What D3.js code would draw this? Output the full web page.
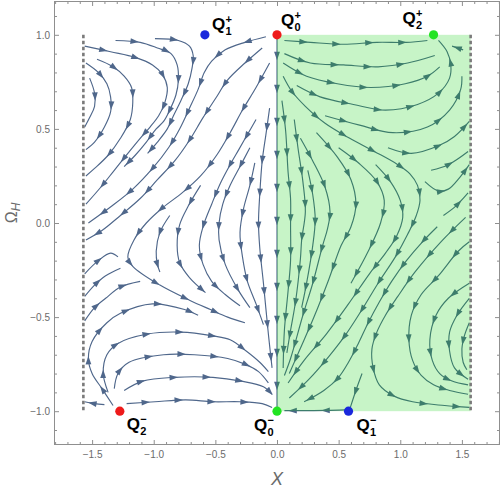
<!DOCTYPE html>
<html>
<head>
<meta charset="utf-8">
<title>Stream plot X - Omega_H</title>
<style>
  body { margin: 0; background: #ffffff; }
  svg text { font-family: "Liberation Sans", Arial, sans-serif; }
</style>
</head>
<body>
<div id="vis"></div>
<script src="https://d3js.org/d3.v7.min.js"></script>
<script>
// tick labels
const xTicks = [-1.5, -1.0, -0.5, 0.0, 0.5, 1.0, 1.5]
const yTicks = [-1.0, -0.5, 0.0, 0.5, 1.0]

// critical points
const pointNames = ['Q0+', 'Q1+', 'Q2+', 'Q0-', 'Q1-', 'Q2-']
const pointSub   = ['0', '1', '2', '0', '1', '2']
const pointSup   = ['+', '+', '+', '\u2212', '\u2212', '\u2212']
const pointX     = [0, -0.585, 1.27, 0, 0.58, -1.275]
const pointY     = [1, 1, 1, -1, -1, -1]
const pointKind  = ['source', 'saddle', 'sink', 'sink', 'saddle', 'source']

// shaded region and the walls X = ±π/2
const regionX = [0, Math.PI / 2]
const regionY = [-1, 1]
const wallX = [-Math.PI / 2, Math.PI / 2]
const wallY = [-1, 1]

// streamlines as [X, Ω_H] pairs, in flow order
const axisLine = [[0, 0.99], [0, -0.99]]

const leftTop = [
  [[-1.52,0.77],[-1.48,0.69],[-1.48,0.62],[-1.52,0.56],[-1.56,0.51]],
  [[-1.55,0.85],[-1.45,0.80],[-1.38,0.74],[-1.35,0.67],[-1.35,0.59],[-1.40,0.51],[-1.48,0.43],[-1.55,0.39]],
  [[-1.46,0.87],[-1.33,0.83],[-1.24,0.78],[-1.18,0.72],[-1.17,0.64],[-1.19,0.55],[-1.27,0.45],[-1.37,0.36],[-1.48,0.29],[-1.55,0.25]],
  [[-1.56,0.94],[-1.35,0.91],[-1.15,0.88],[-1.01,0.84],[-0.93,0.79],[-0.89,0.72],[-0.91,0.64],[-0.96,0.57],[-1.03,0.51],[-1.11,0.45],[-1.21,0.37],[-1.32,0.28],[-1.43,0.19],[-1.55,0.10]],
  [[-1.31,0.97],[-1.11,0.96],[-0.97,0.93],[-0.86,0.90],[-0.81,0.84],[-0.80,0.76],[-0.82,0.68],[-0.87,0.60],[-0.92,0.54],[-0.98,0.50],[-1.06,0.43],[-1.15,0.36],[-1.24,0.30]],
  [[-0.99,0.98],[-0.80,0.97],[-0.71,0.94],[-0.68,0.89],[-0.69,0.82],[-0.72,0.74],[-0.78,0.65],[-0.84,0.57],[-0.89,0.50],[-0.97,0.43],[-1.05,0.37]],
  [[-0.09,0.99],[-0.26,0.96],[-0.42,0.92],[-0.53,0.86],[-0.59,0.80],[-0.64,0.71],[-0.71,0.61],[-0.79,0.50],[-0.88,0.40],[-1.01,0.29],[-1.17,0.18],[-1.34,0.09],[-1.53,0.00]],
  [[-0.12,0.93],[-0.26,0.85],[-0.40,0.76],[-0.50,0.66],[-0.60,0.56],[-0.71,0.44],[-0.83,0.33],[-0.97,0.23],[-1.11,0.13],[-1.27,0.04],[-1.42,-0.04],[-1.55,-0.09]]
]

const leftMid = [
  [[-0.06,0.85],[-0.17,0.72],[-0.28,0.60],[-0.38,0.48],[-0.49,0.36],[-0.62,0.25],[-0.77,0.16],[-0.93,0.08],[-1.06,0.00],[-1.16,-0.09],[-1.21,-0.18],[-1.17,-0.23],[-0.95,-0.33],[-0.71,-0.41],[-0.54,-0.46],[-0.40,-0.50],[-0.26,-0.53]],
  [[-0.17,0.55],[-0.24,0.47],[-0.31,0.39],[-0.38,0.31],[-0.46,0.21],[-0.53,0.10],[-0.60,-0.02],[-0.63,-0.12],[-0.60,-0.22],[-0.53,-0.31],[-0.42,-0.38],[-0.30,-0.44]],
  [[-0.06,0.61],[-0.09,0.47],[-0.12,0.33],[-0.14,0.15],[-0.15,0.00],[-0.14,-0.13],[-0.11,-0.32],[-0.07,-0.59],[-0.04,-0.77]],
  [[-0.22,0.40],[-0.30,0.30],[-0.38,0.20],[-0.44,0.10],[-0.47,0.00],[-0.47,-0.09],[-0.42,-0.22],[-0.32,-0.35],[-0.22,-0.45]],
  [[-0.18,0.32],[-0.22,0.20],[-0.27,0.08],[-0.30,-0.05],[-0.28,-0.18],[-0.24,-0.31],[-0.17,-0.43],[-0.11,-0.54]],
  [[-0.62,0.20],[-0.72,0.09],[-0.79,-0.01],[-0.81,-0.12],[-0.79,-0.21],[-0.71,-0.29],[-0.58,-0.37]],
  [[-0.87,0.04],[-0.95,-0.05],[-0.98,-0.15],[-0.97,-0.22],[-0.95,-0.26]]
]

const leftBottom = [
  [[-1.22,-0.96],[-0.99,-0.95],[-0.74,-0.94],[-0.52,-0.95],[-0.30,-0.95],[-0.12,-0.96],[-0.04,-0.98]],
  [[-1.24,-0.89],[-1.09,-0.84],[-0.83,-0.82],[-0.52,-0.82],[-0.29,-0.84],[-0.11,-0.87],[-0.04,-0.91]],
  [[-1.32,-0.88],[-1.29,-0.80],[-1.20,-0.74],[-0.92,-0.70],[-0.67,-0.70],[-0.40,-0.72],[-0.26,-0.75],[-0.15,-0.79],[-0.07,-0.85]],
  [[-1.37,-0.90],[-1.41,-0.80],[-1.38,-0.70],[-1.29,-0.64],[-1.05,-0.59],[-0.78,-0.58],[-0.52,-0.60],[-0.38,-0.62],[-0.25,-0.68],[-0.14,-0.74],[-0.07,-0.79]],
  [[-1.33,-0.97],[-1.42,-0.88],[-1.50,-0.80],[-1.53,-0.72],[-1.50,-0.63],[-1.38,-0.53],[-1.27,-0.48],[-1.01,-0.43],[-0.75,-0.46],[-0.64,-0.49]],
  [[-1.40,-0.965],[-1.48,-0.96],[-1.56,-0.95]],
  [[-1.56,-0.52],[-1.48,-0.45],[-1.39,-0.40],[-1.27,-0.34],[-1.11,-0.31]],
  [[-1.56,-0.39],[-1.48,-0.33],[-1.39,-0.28],[-1.27,-0.24]],
  [[-1.56,-0.27],[-1.45,-0.20],[-1.35,-0.16],[-1.29,-0.18]]
]

const rightTop = [
  [[0.06,0.97],[0.27,0.96],[0.54,0.95],[0.81,0.96],[1.05,0.96],[1.22,0.97]],
  [[0.06,0.90],[0.27,0.85],[0.54,0.84],[0.82,0.83],[1.06,0.85],[1.28,0.89]],
  [[0.05,0.85],[0.24,0.78],[0.49,0.74],[0.76,0.72],[1.04,0.74],[1.22,0.78],[1.32,0.83]],
  [[0.16,0.73],[0.35,0.67],[0.62,0.63],[0.88,0.60],[1.14,0.63],[1.31,0.69],[1.40,0.77],[1.41,0.84],[1.38,0.91],[1.31,0.97]],
  [[0.39,0.57],[0.67,0.52],[0.94,0.48],[1.22,0.51],[1.40,0.60],[1.49,0.71],[1.50,0.78]],
  [[0.90,0.40],[1.09,0.37],[1.31,0.41],[1.44,0.46],[1.56,0.54]],
  [[1.25,0.28],[1.39,0.31],[1.55,0.38]],
  [[1.20,0.22],[1.31,0.17],[1.39,0.18],[1.48,0.24],[1.56,0.31]],
  [[1.35,0.04],[1.45,0.09],[1.55,0.16]],
  [[1.51,0.92],[1.42,0.94]]
]

const rightMid = [
  [[0.05,0.78],[0.12,0.70],[0.23,0.62],[0.39,0.53],[0.59,0.45],[0.79,0.38],[0.98,0.31],[1.08,0.26],[1.14,0.20],[1.16,0.12],[1.13,0.04],[1.06,-0.06],[0.96,-0.18],[0.82,-0.32],[0.68,-0.47],[0.55,-0.60],[0.42,-0.71],[0.26,-0.83],[0.10,-0.93]],
  [[0.04,0.65],[0.07,0.49],[0.09,0.27],[0.11,0.13],[0.11,-0.01],[0.11,-0.20],[0.09,-0.36],[0.06,-0.57],[0.05,-0.77]],
  [[0.14,0.55],[0.17,0.40],[0.21,0.22],[0.23,0.06],[0.20,-0.09],[0.19,-0.19],[0.15,-0.42],[0.11,-0.57],[0.08,-0.69]],
  [[0.25,0.28],[0.29,0.15],[0.31,0.02],[0.29,-0.12],[0.24,-0.32],[0.20,-0.45]],
  [[0.19,0.45],[0.29,0.33],[0.39,0.19],[0.43,0.06],[0.41,-0.03],[0.37,-0.12],[0.29,-0.32],[0.21,-0.49],[0.11,-0.72],[0.06,-0.81]],
  [[0.32,0.48],[0.49,0.35],[0.60,0.23],[0.64,0.10],[0.60,-0.02],[0.52,-0.12],[0.42,-0.30],[0.30,-0.50],[0.18,-0.68],[0.10,-0.80]],
  [[0.50,0.40],[0.66,0.32],[0.81,0.22],[0.87,0.12],[0.84,0.00],[0.74,-0.15],[0.60,-0.32]],
  [[0.80,0.31],[0.92,0.22],[1.00,0.12],[1.02,0.03],[0.97,-0.07],[0.88,-0.16],[0.75,-0.27],[0.58,-0.43],[0.40,-0.59],[0.22,-0.73],[0.09,-0.85]]
]

const rightBottom = [
  [[1.30,-0.02],[1.18,-0.10],[1.05,-0.20],[0.93,-0.31],[0.83,-0.42],[0.74,-0.53],[0.66,-0.64],[0.58,-0.74],[0.50,-0.82],[0.38,-0.89],[0.22,-0.95]],
  [[1.53,0.03],[1.33,-0.10],[1.12,-0.26],[0.98,-0.39],[0.88,-0.49],[0.81,-0.58],[0.77,-0.67],[0.78,-0.77],[0.83,-0.86],[0.95,-0.92],[1.10,-0.95],[1.36,-0.97],[1.56,-0.98]],
  [[1.56,-0.10],[1.47,-0.15],[1.31,-0.28],[1.17,-0.38],[1.09,-0.49],[1.07,-0.62],[1.10,-0.73],[1.17,-0.81],[1.27,-0.86],[1.40,-0.89],[1.55,-0.91]],
  [[1.56,-0.32],[1.39,-0.40],[1.29,-0.49],[1.24,-0.62],[1.26,-0.73],[1.32,-0.80],[1.42,-0.84],[1.55,-0.86]],
  [[1.56,-0.40],[1.46,-0.49],[1.40,-0.58],[1.40,-0.68],[1.44,-0.77],[1.55,-0.83]],
  [[1.56,-0.53],[1.52,-0.60],[1.50,-0.67],[1.51,-0.74],[1.54,-0.78]],
  [[0.69,-0.80],[0.64,-0.89],[0.595,-0.98]],
  [[0.55,-0.993],[0.40,-0.996],[0.24,-0.997],[0.06,-0.997]]
]

const allLines = [axisLine].concat(leftTop, leftMid, leftBottom, rightTop, rightMid, rightBottom)

// ---- drawing ----
const W = 500, H = 490
const lineColor = '#4f678b'
const kindColor = { source: '#ee1a1a', saddle: '#1a28dc', sink: '#22e422' }
const labelPos = {           // pixel offset of the "Q" from its point
  'Q0+': [4, -9], 'Q1+': [7, -5], 'Q2+': [-31, -11],
  'Q0-': [-23, 20], 'Q1-': [8, 20], 'Q2-': [7, 19]
}

const svg = d3.select('#vis').append('svg')
  .attr('width', W).attr('height', H)

const x = d3.scaleLinear().domain([-1.805, 1.805]).range([54.5, 499.5])
const y = d3.scaleLinear().domain([-1.177, 1.177]).range([444.5, 1.5])

svg.append('clipPath').attr('id', 'plot-clip')
  .append('rect').attr('x', 54.5).attr('y', 1.5).attr('width', 445).attr('height', 443)

// streamlines with arrowheads
const lineGen = d3.line()
  .x(d => x(d[0])).y(d => y(d[1]))
  .curve(d3.curveCatmullRom.alpha(0.5))

const gLines = svg.append('g').attr('clip-path', 'url(#plot-clip)')
allLines.forEach(pts => {
  const path = gLines.append('path').datum(pts)
    .attr('d', lineGen)
    .attr('fill', 'none')
    .attr('stroke', lineColor)
    .attr('stroke-width', 1.15)
  const node = path.node()
  const len = node.getTotalLength()
  for (let s = Math.min(22, len * 0.75); s <= len; s += 33) {
    const p = node.getPointAtLength(s)
    const q = node.getPointAtLength(Math.max(0, s - 1.5))
    const a = Math.atan2(p.y - q.y, p.x - q.x) * 180 / Math.PI
    gLines.append('path')
      .attr('d', 'M1.5,0L-7,-2.9L-7,2.9Z')
      .attr('transform', `translate(${p.x},${p.y}) rotate(${a})`)
      .attr('fill', lineColor)
  }
})

// green region laid over the lines
svg.append('rect')
  .attr('x', x(regionX[0])).attr('y', y(regionY[1]))
  .attr('width', x(regionX[1]) - x(regionX[0]))
  .attr('height', y(regionY[0]) - y(regionY[1]))
  .attr('fill', 'rgb(0,205,0)').attr('fill-opacity', 0.22)

// dashed walls
svg.selectAll('.wall').data(wallX).join('line')
  .attr('class', 'wall')
  .attr('x1', d => x(d)).attr('x2', d => x(d))
  .attr('y1', y(wallY[1])).attr('y2', y(wallY[0]))
  .attr('stroke', '#7a7a7a').attr('stroke-width', 2.6)
  .attr('stroke-dasharray', '3.5,2.5')

// critical points
const pts = pointNames.map((n, i) => ({ name: n, x: pointX[i], y: pointY[i], kind: pointKind[i], sub: pointSub[i], sup: pointSup[i] }))
svg.selectAll('.pt').data(pts).join('circle')
  .attr('class', 'pt')
  .attr('cx', d => x(d.x)).attr('cy', d => y(d.y)).attr('r', 4.6)
  .attr('fill', d => kindColor[d.kind])

const gLab = svg.append('g')
pts.forEach(d => {
  const qx = x(d.x) + labelPos[d.name][0]
  const qy = y(d.y) + labelPos[d.name][1]
  gLab.append('text').attr('x', qx).attr('y', qy)
    .style('font-size', '17px').style('font-weight', 'bold').attr('fill', '#000').text('Q')
  gLab.append('text').attr('x', qx + 13.5).attr('y', qy - 7)
    .style('font-size', '11px').style('font-weight', 'bold').attr('fill', '#000').text(d.sup)
  gLab.append('text').attr('x', qx + 13.5).attr('y', qy + 5)
    .style('font-size', '11px').style('font-weight', 'bold').attr('fill', '#000').text(d.sub)
})

// frame and ticks
const tickColor = '#8f8f8f'
const labelColor = '#6b6b6b'
const fmt = d3.format('.1f')
const minorX = d3.range(-18, 19).map(d => d / 10).filter(d => !xTicks.some(t => Math.abs(t - d) < 1e-6))
const minorY = d3.range(-11, 12).map(d => d / 10).filter(d => !yTicks.some(t => Math.abs(t - d) < 1e-6))

function styleAxis(g) {
  g.select('.domain').remove()
  g.selectAll('.tick line').attr('stroke', tickColor)
  g.selectAll('.tick text').attr('fill', labelColor).style('font-size', '10px')
}

svg.append('g').attr('transform', `translate(0,${y.range()[0]})`)
  .call(d3.axisBottom(x).tickValues(xTicks).tickSize(-4.5).tickPadding(6).tickFormat(fmt)).call(styleAxis)
svg.append('g').attr('transform', `translate(0,${y.range()[0]})`)
  .call(d3.axisBottom(x).tickValues(minorX).tickSize(-2.5).tickFormat('')).call(styleAxis)
svg.append('g').attr('transform', `translate(0,${y.range()[1]})`)
  .call(d3.axisTop(x).tickValues(xTicks).tickSize(-4.5).tickFormat('')).call(styleAxis)
svg.append('g').attr('transform', `translate(0,${y.range()[1]})`)
  .call(d3.axisTop(x).tickValues(minorX).tickSize(-2.5).tickFormat('')).call(styleAxis)

svg.append('g').attr('transform', `translate(${x.range()[0]},0)`)
  .call(d3.axisLeft(y).tickValues(yTicks).tickSize(-4.5).tickPadding(4.5).tickFormat(fmt)).call(styleAxis)
svg.append('g').attr('transform', `translate(${x.range()[0]},0)`)
  .call(d3.axisLeft(y).tickValues(minorY).tickSize(-2.5).tickFormat('')).call(styleAxis)
svg.append('g').attr('transform', `translate(${x.range()[1]},0)`)
  .call(d3.axisRight(y).tickValues(yTicks).tickSize(-4.5).tickFormat('')).call(styleAxis)
svg.append('g').attr('transform', `translate(${x.range()[1]},0)`)
  .call(d3.axisRight(y).tickValues(minorY).tickSize(-2.5).tickFormat('')).call(styleAxis)

svg.append('rect')
  .attr('x', x.range()[0]).attr('y', y.range()[1])
  .attr('width', x.range()[1] - x.range()[0])
  .attr('height', y.range()[0] - y.range()[1])
  .attr('fill', 'none').attr('stroke', tickColor).attr('stroke-width', 1)

// axis labels
svg.append('text')
  .attr('x', x(0)).attr('y', 485)
  .attr('text-anchor', 'middle')
  .attr('fill', '#6b6b6b')
  .style('font-size', '18px').style('font-style', 'italic')
  .text('X')

const yl = svg.append('text')
  .attr('transform', 'translate(17,213) rotate(-90)')
  .attr('text-anchor', 'middle')
  .attr('fill', '#6b6b6b')
  .style('font-size', '16px')
yl.append('tspan').text('\u03A9')
yl.append('tspan').attr('dy', 3).style('font-size', '12px').style('font-style', 'italic').text('H')
</script>
</body>
</html>
